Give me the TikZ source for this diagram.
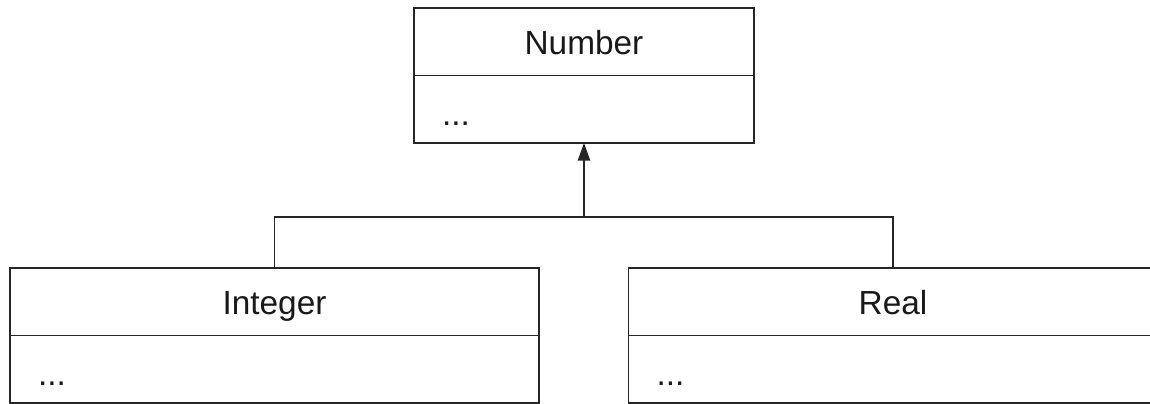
\documentclass[tikz,border=0pt]{standalone}
\usepackage{fontspec}
\usepackage{tikz}
\usetikzlibrary{positioning, arrows.meta}
\newfontfamily\arialfont{Liberation Sans}

\begin{document}
\begin{tikzpicture}[
  x=0.02cm, y=-0.02cm,
  clsname/.style={draw=black!85, line width=1pt, outer sep=0pt, minimum height=1.35cm, minimum width=#1,
    text height=14.2pt, text depth=0pt, font=\arialfont\fontsize{19}{23}\selectfont, text=black!90},
  clsbody/.style={draw=black!85, line width=1pt, outer sep=0pt, minimum height=1.35cm, text width=#1,
    inner xsep=0.56cm, align=left, text height=0.64cm, text depth=0pt, font=\arialfont\fontsize{19}{23}\selectfont, text=black!90},
  arr/.style={-{Triangle[length=10pt, width=7pt]}, line width=1pt, draw=black!85},
  conn/.style={line width=1pt, draw=black!85}
]
\useasboundingbox (0,0) rectangle (1150,404);

% ── Number ──
\node[clsname=6.8cm] (numname) at (584, 41.75) {Number};
\node[clsbody=5.68cm, below=0pt of numname] (numbody) {...};

% ── Integer ──
\node[clsname=10.58cm] (intname) at (274.5, 301.75) {Integer};
\node[clsbody=9.46cm, below=0pt of intname] (intbody) {...};

% ── Real ──
\node[clsname=10.58cm] (realname) at (893, 301.75) {Real};
\node[clsbody=9.46cm, below=0pt of realname] (realbody) {...};

% ═══ ARROWS ═══
\coordinate (bus) at (584, 217);
\draw[conn] (intname.north) |- (bus) -| (realname.north);
\draw[arr] (bus) -- (numbody.south);

\end{tikzpicture}
\end{document}
